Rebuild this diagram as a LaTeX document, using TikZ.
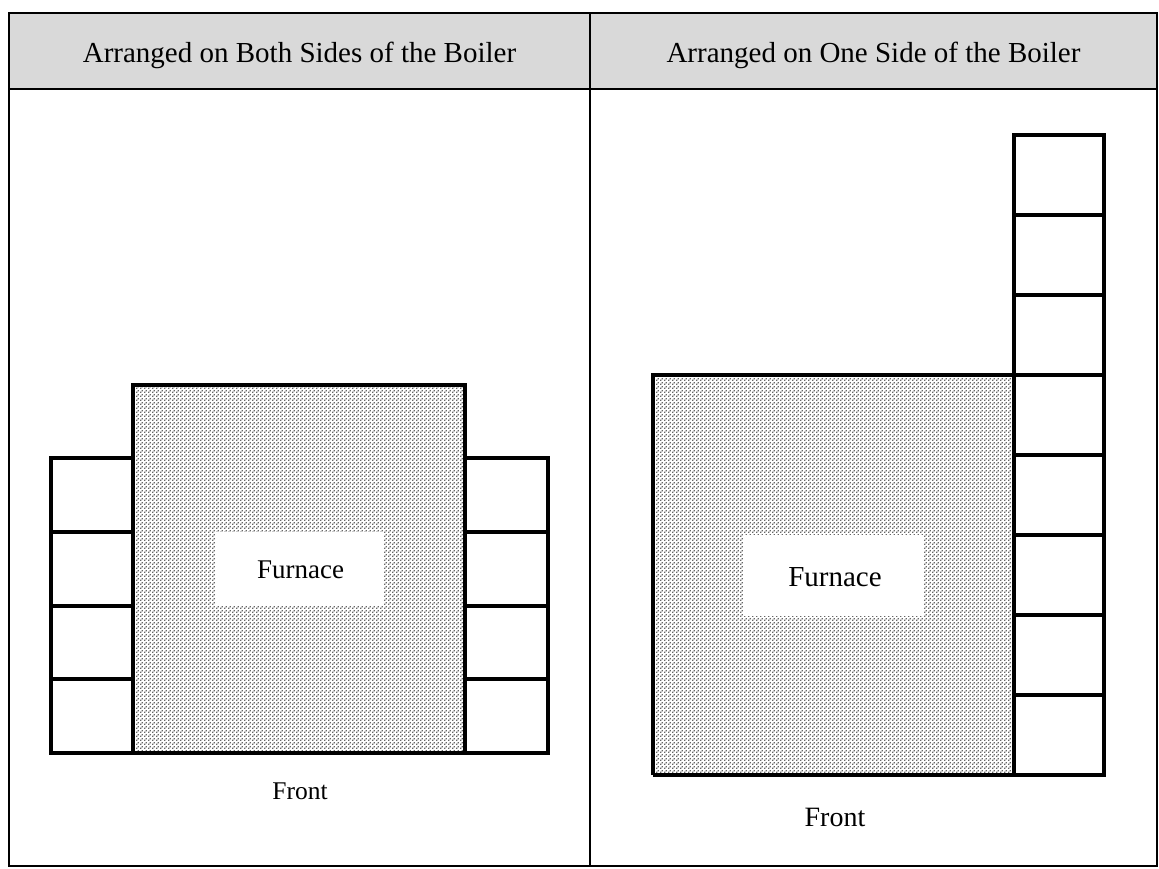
\documentclass[tikz,border=0pt]{standalone}
\usepackage{fontspec}
\setmainfont{Liberation Serif}
\usetikzlibrary{patterns.meta}
\pgfdeclarepattern{name=furndots, type=uncolored,
  bottom left={\pgfpoint{0pt}{0pt}}, top right={\pgfpoint{4pt}{4pt}},
  tile size={\pgfpoint{4pt}{4pt}},
  code={\pgfpathrectangle{\pgfpoint{0pt}{0pt}}{\pgfpoint{1.6pt}{1.6pt}}
        \pgfpathrectangle{\pgfpoint{2pt}{2pt}}{\pgfpoint{1.6pt}{1.6pt}}
        \pgfusepath{fill}}}
\definecolor{headgray}{HTML}{D9D9D9}
\tikzset{
  tableline/.style={line width=1.4pt},
  unitbox/.style={line width=3.3pt},
  furnace/.style={pattern=furndots, pattern color=black!60},
}
\begin{document}
\begin{tikzpicture}[x=1pt,y=-1pt]
\useasboundingbox (0,0) rectangle (1159,868);
% table
\fill[headgray] (9,13) rectangle (1157,89);
\draw[tableline] (9,13) rectangle (1157,866);
\draw[tableline] (9,89) -- (1157,89);
\draw[tableline] (590,13) -- (590,866);
\node[anchor=base, font=\fontsize{29}{32}\selectfont] (h1) at (299.5,62) {Arranged on Both Sides of the Boiler};
\node[anchor=base, font=\fontsize{29}{32}\selectfont] (h2) at (873.5,62) {Arranged on One Side of the Boiler};

% left panel
\fill[furnace] (133,385) rectangle (465,753);
\fill[white] (215,532) rectangle (383,605);
\node[anchor=base, font=\fontsize{27}{30}\selectfont] (f1) at (300.5,578) {Furnace};
\draw[unitbox] (133,753) -- (133,385) -- (465,385) -- (465,753) -- cycle;
\draw[unitbox] (51,458) rectangle (133,753);
\draw[unitbox] (465,458) rectangle (548,753);
\foreach \y in {532,606,679} {
  \draw[unitbox] (51,\y) -- (133,\y);
  \draw[unitbox] (465,\y) -- (548,\y);
}
\node[anchor=base, font=\fontsize{25.5}{28}\selectfont] (fr1) at (300,799) {Front};

% right panel
\fill[furnace] (653,375) rectangle (1014,775);
\fill[white] (743,535) rectangle (924,616);
\node[anchor=base, font=\fontsize{29}{32}\selectfont] (f2) at (835,586) {Furnace};
\draw[unitbox] (653,775) -- (653,375) -- (1014,375);
\draw[unitbox] (1014,135) rectangle (1104,775);
\draw[unitbox] (653,775) -- (1014,775);
\foreach \i in {1,...,7} {
  \draw[unitbox] (1014,135+80*\i) -- (1104,135+80*\i);
}
\node[anchor=base, font=\fontsize{28}{31}\selectfont] (fr2) at (835,826) {Front};
\end{tikzpicture}
\end{document}
